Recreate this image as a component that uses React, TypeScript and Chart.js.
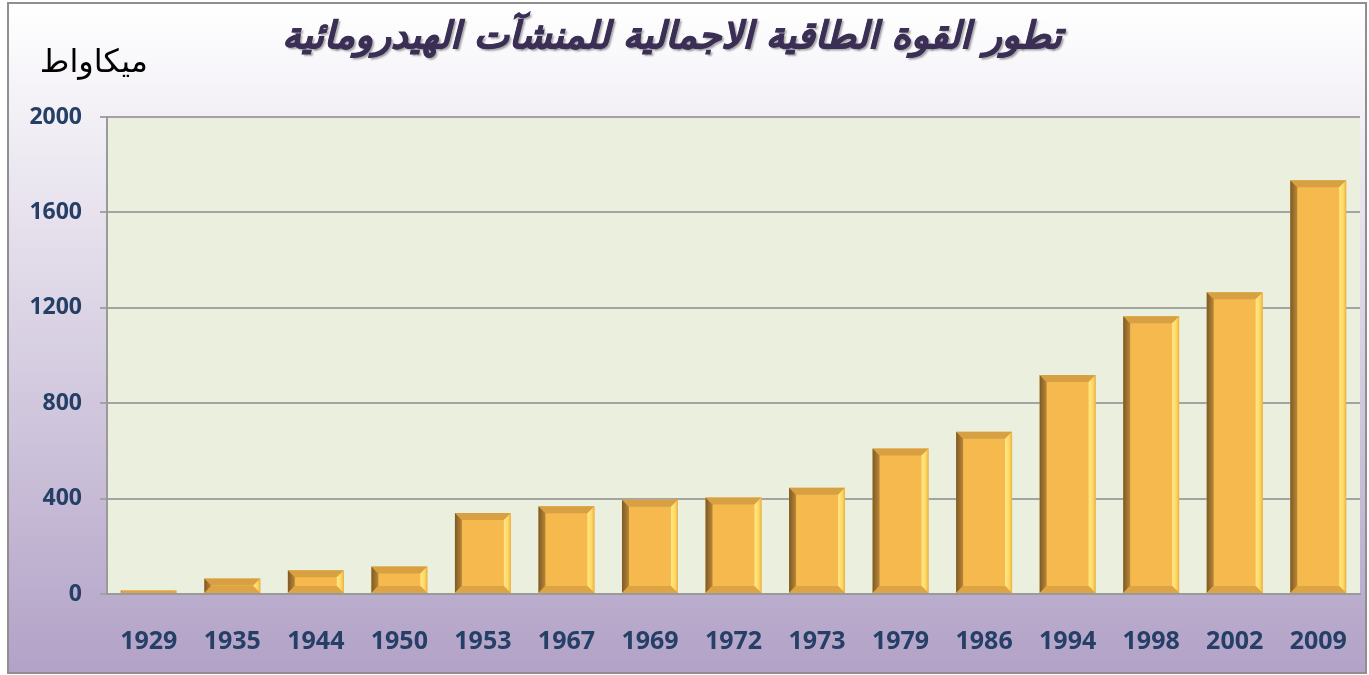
import React, { useEffect, useRef } from "react";
import { Chart, registerables } from "chart.js";

Chart.register(...registerables);

const titleText = "تطور القوة الطاقية الاجمالية للمنشآت الهيدرومائية";
const unitText = "ميكاواط";
const categories = ["1929", "1935", "1944", "1950", "1953", "1967", "1969", "1972", "1973", "1979", "1986", "1994", "1998", "2002", "2009"];
const capacity = [15, 65, 100, 115, 340, 368, 395, 405, 445, 610, 680, 918, 1165, 1265, 1735];
const yMin = 0;
const yMax = 2000;
const yStep = 400;

const W = 1369;
const H = 675;

const backgroundPlugin = {
  id: "bgFrame",
  beforeDraw(chart: any) {
    const ctx = chart.ctx as CanvasRenderingContext2D;
    const ca = chart.chartArea;
    ctx.save();
    const g = ctx.createLinearGradient(0, 3, 0, 673);
    g.addColorStop(0, "#ffffff");
    g.addColorStop(1, "#b2a2c7");
    ctx.fillStyle = g;
    ctx.fillRect(8, 3, 1358, 670);
    ctx.strokeStyle = "#8f8f8f";
    ctx.lineWidth = 2;
    ctx.strokeRect(8, 3, 1358, 670);
    ctx.fillStyle = "#ebf0de";
    ctx.fillRect(ca.left, ca.top, ca.right - ca.left, ca.bottom - ca.top);
    ctx.restore();
  },
  afterDraw(chart: any) {
    const ctx = chart.ctx as CanvasRenderingContext2D;
    ctx.save();
    ctx.direction = "rtl";
    ctx.textAlign = "center";
    ctx.textBaseline = "middle";
    let size = 40;
    ctx.font = `italic bold ${size}px "DejaVu Sans"`;
    const w = ctx.measureText(titleText).width;
    size = Math.max(20, Math.min(60, (size * 780) / w));
    ctx.font = `italic bold ${size}px "DejaVu Sans"`;
    ctx.shadowColor = "rgba(0,0,0,0.35)";
    ctx.shadowOffsetX = 2;
    ctx.shadowOffsetY = 2;
    ctx.shadowBlur = 2;
    ctx.fillStyle = "#3b2f55";
    ctx.strokeStyle = "#3b2f55";
    ctx.lineWidth = 0.8;
    ctx.fillText(titleText, 672, 38);
    ctx.shadowColor = "transparent";
    ctx.strokeText(titleText, 672, 38);
    ctx.textAlign = "right";
    ctx.font = `32px "DejaVu Sans"`;
    ctx.fillStyle = "#000000";
    ctx.fillText(unitText, 148, 64);
    ctx.restore();
  },
};

const bevelPlugin = {
  id: "bevel",
  afterDatasetsDraw(chart: any) {
    const ctx = chart.ctx as CanvasRenderingContext2D;
    const meta = chart.getDatasetMeta(0);
    ctx.save();
    meta.data.forEach((el: any) => {
      const p = el.getProps(["x", "y", "base", "width"], true);
      const l = p.x - p.width / 2;
      const r = p.x + p.width / 2;
      const t = Math.min(p.y, p.base);
      const bt = Math.max(p.y, p.base);
      const b = Math.min(7, (bt - t) / 2);
      const poly = (pts: number[][], fill: any) => {
        ctx.beginPath();
        ctx.moveTo(pts[0][0], pts[0][1]);
        for (let i = 1; i < pts.length; i++) ctx.lineTo(pts[i][0], pts[i][1]);
        ctx.closePath();
        ctx.fillStyle = fill;
        ctx.fill();
      };
      poly([[l, t], [r, t], [r - b, t + b], [l + b, t + b]], "#d6a043");
      const gl = ctx.createLinearGradient(l, 0, l + b, 0);
      gl.addColorStop(0, "#7d5a26");
      gl.addColorStop(1, "#b98636");
      poly([[l, t], [l + b, t + b], [l + b, bt - b], [l, bt]], gl);
      const gr = ctx.createLinearGradient(r - b, 0, r, 0);
      gr.addColorStop(0, "#ffe88a");
      gr.addColorStop(0.6, "#ffd85e");
      gr.addColorStop(1, "#e7b04a");
      poly([[r, t], [r, bt], [r - b, bt - b], [r - b, t + b]], gr);
      poly([[l, bt], [l + b, bt - b], [r - b, bt - b], [r, bt]], "#dca445");
    });
    ctx.restore();
  },
};

export default function App() {
  const ref = useRef<HTMLCanvasElement | null>(null);
  useEffect(() => {
    if (!ref.current) return;
    const chart = new Chart(ref.current, {
      type: "bar",
      data: {
        labels: categories,
        datasets: [
          {
            data: capacity,
            backgroundColor: "#f5b94e",
            borderWidth: 0,
            categoryPercentage: 1,
            barPercentage: 0.67,
          },
        ],
      },
      options: {
        responsive: false,
        animation: false,
        layout: { padding: { top: 117, right: 9, bottom: 0, left: 0 } },
        plugins: { legend: { display: false }, tooltip: { enabled: false }, title: { display: false } },
        scales: {
          x: {
            afterFit(scale: any) {
              scale.height = 81;
              scale.paddingLeft = 0;
              scale.paddingRight = 0;
            },
            grid: { display: false, drawTicks: false },
            border: { display: true, color: "#9a9a9a", width: 2 },
            ticks: {
              color: "#253f66",
              font: { family: "Open Sans", weight: "bold", size: 25 },
              padding: 33,
              maxRotation: 0,
              autoSkip: false,
            },
          },
          y: {
            min: yMin,
            max: yMax,
            afterFit(scale: any) {
              scale.width = 107;
            },
            grid: { color: "#a3a3a3", lineWidth: 2, tickLength: 7 },
            border: { display: true, color: "#9a9a9a", width: 2 },
            ticks: {
              stepSize: yStep,
              color: "#253f66",
              font: { family: "Open Sans", weight: "bold", size: 23 },
              padding: 18,
              callback: (v: any) => String(v),
            },
          },
        },
      },
      plugins: [backgroundPlugin, bevelPlugin],
    } as any);
    return () => chart.destroy();
  }, []);
  return (
    <div style={{ position: "absolute", left: 0, top: 0, width: W, height: H }}>
      <canvas ref={ref} width={W} height={H} style={{ display: "block", width: W, height: H }} />
    </div>
  );
}
